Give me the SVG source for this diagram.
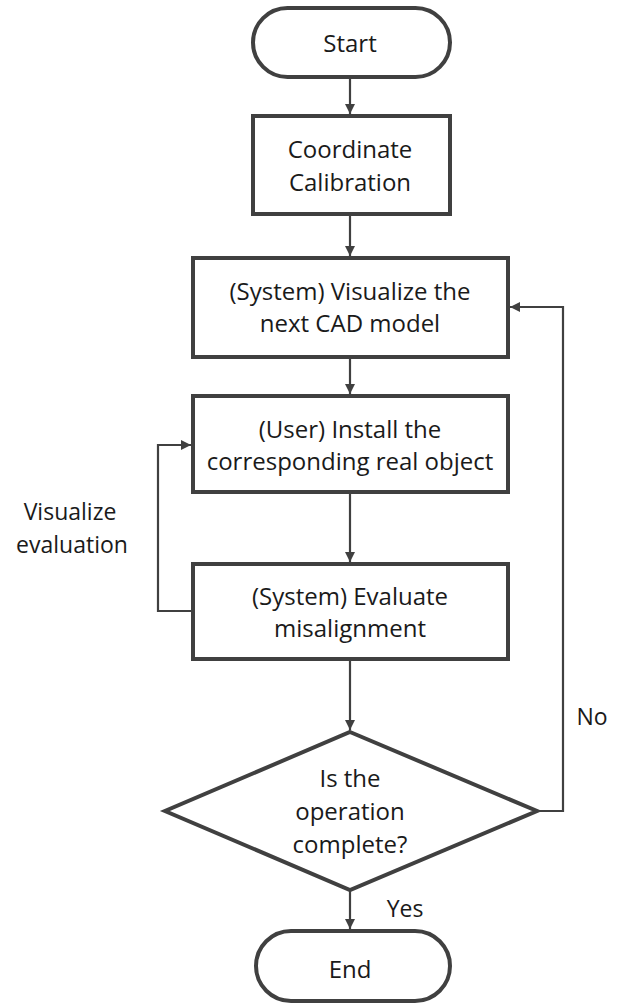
<svg xmlns="http://www.w3.org/2000/svg" width="622" height="1004" viewBox="0 0 622 1004">
<style>
.node{fill:#fff;stroke:#404040;stroke-width:4}
.t{font-family:"Open Sans","Liberation Sans",sans-serif;font-size:24px;fill:#1a1a1a;text-anchor:middle}
.l{font-size:23px}
.c{fill:none;stroke:#404040;stroke-width:2.2}
</style>
<defs>
<marker id="ah" viewBox="0 0 10 10" refX="10" refY="5" markerWidth="10" markerHeight="10" markerUnits="userSpaceOnUse" orient="auto">
<path d="M0,0 L10,5 L0,10 Z" fill="#404040"/>
</marker>
</defs>
<rect width="622" height="1004" fill="#fff"/>
<g id="connectors">
<line class="c" x1="350" y1="77" x2="350" y2="114" marker-end="url(#ah)"/>
<line class="c" x1="350" y1="214" x2="350" y2="256" marker-end="url(#ah)"/>
<line class="c" x1="350" y1="357" x2="350" y2="394" marker-end="url(#ah)"/>
<line class="c" x1="350" y1="492" x2="350" y2="562" marker-end="url(#ah)"/>
<line class="c" x1="350" y1="659" x2="350" y2="730" marker-end="url(#ah)"/>
<line class="c" x1="350" y1="890" x2="350" y2="929" marker-end="url(#ah)"/>
<polyline class="c" points="193,611 158,611 158,445 191,445" marker-end="url(#ah)"/>
<polyline class="c" points="537,811 563,811 563,307 510,307" marker-end="url(#ah)"/>
<text class="t l" x="70" y="520">Visualize</text>
<text class="t l" x="72" y="553">evaluation</text>
<text class="t l" x="592" y="725">No</text>
<text class="t l" x="405" y="917">Yes</text>
</g>
<g id="start">
<rect class="node" x="253" y="8" width="197" height="69" rx="34.5"/>
<text class="t" x="350" y="52">Start</text>
</g>
<g id="calibration">
<rect class="node" x="253" y="116" width="197" height="98"/>
<text class="t" x="350" y="158">Coordinate</text>
<text class="t" x="350" y="191">Calibration</text>
</g>
<g id="visualize">
<rect class="node" x="193" y="258" width="315" height="99"/>
<text class="t" x="350" y="300">(System) Visualize the</text>
<text class="t" x="350" y="332">next CAD model</text>
</g>
<g id="install">
<rect class="node" x="193" y="396" width="315" height="96"/>
<text class="t" x="350" y="438">(User) Install the</text>
<text class="t" x="350" y="470">corresponding real object</text>
</g>
<g id="evaluate">
<rect class="node" x="193" y="564" width="315" height="95"/>
<text class="t" x="350" y="605">(System) Evaluate</text>
<text class="t" x="350" y="637">misalignment</text>
</g>
<g id="decision">
<polygon class="node" points="350,732 537,811 350,890 165,811"/>
<text class="t" x="350" y="787">Is the</text>
<text class="t" x="350" y="820">operation</text>
<text class="t" x="350" y="853">complete?</text>
</g>
<g id="end">
<rect class="node" x="256" y="931" width="194" height="70" rx="35"/>
<text class="t" x="350" y="978">End</text>
</g>
</svg>
